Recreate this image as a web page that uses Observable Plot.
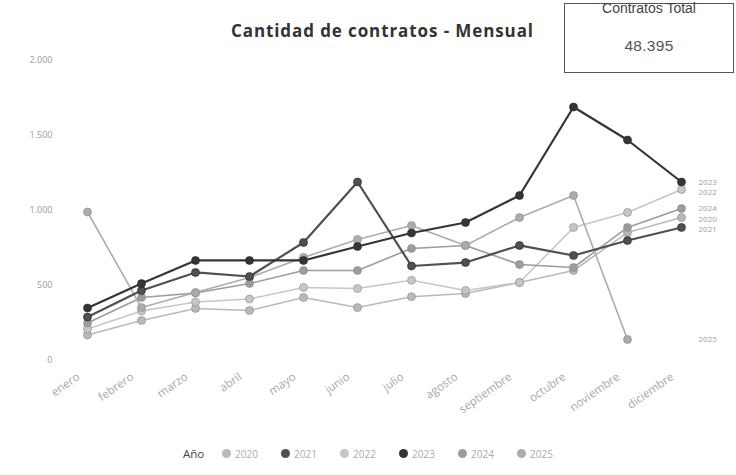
<!DOCTYPE html>
<html><head><meta charset="utf-8">
<script src="https://cdn.jsdelivr.net/npm/d3@7"></script>
<script src="https://cdn.jsdelivr.net/npm/@observablehq/plot@0.6"></script>
<style>
body{margin:0;background:#fff;font-family:"Open Sans",sans-serif;}
#wrap{position:relative;width:736px;height:475px;overflow:hidden;background:#fff;}
#title{position:absolute;left:231px;top:19px;font-weight:700;font-size:17px;color:#333;white-space:nowrap;letter-spacing:0.9px;}
#card{position:absolute;left:564px;top:3px;width:170px;height:70px;border:1px solid #555;box-sizing:border-box;font-family:"Liberation Sans",Arial,sans-serif;text-align:center;}
#card .h{position:absolute;left:0;right:0;top:-4px;font-size:14px;color:#444;}
#card .v{position:absolute;left:0;right:0;top:33px;font-size:15.5px;color:#555;letter-spacing:0.3px;}
#chart{position:absolute;left:0;top:50px;}
#legend{position:absolute;left:183px;top:446px;display:flex;align-items:center;font-size:11px;white-space:nowrap;}
#legend .lab{color:#444;width:39px;font-size:11.5px;}
#legend .it{display:flex;align-items:center;width:59px;color:#aaa;font-size:10px;}
#legend .mk{width:9px;height:9px;border-radius:50%;margin-right:4px;}
</style></head>
<body>
<div id="wrap">
  <div id="title">Cantidad de contratos - Mensual</div>
  <div id="card"><div class="h">Contratos Total</div><div class="v">48.395</div></div>
  <div id="chart"></div>
  <div id="legend"></div>
</div>
<script>
const months = ["enero","febrero","marzo","abril","mayo","junio","julio","agosto","septiembre","octubre","noviembre","diciembre"];
const years = ["2020","2021","2022","2023","2024","2025"];
const v2020 = [170, 267, 347, 333, 420, 353, 425, 447, 520, 600, 853, 953];
const v2021 = [290, 467, 587, 560, 787, 1190, 630, 653, 767, 700, 800, 887];
const v2022 = [210, 330, 390, 410, 487, 480, 535, 467, 520, 887, 987, 1140];
const v2023 = [350, 513, 667, 667, 667, 760, 850, 920, 1100, 1690, 1470, 1190];
const v2024 = [250, 420, 450, 513, 600, 600, 747, 767, 640, 620, 887, 1013];
const v2025 = [990, 353, 453, 553, 687, 807, 900, 767, 953, 1100, 140];
const yTicks = [0, 500, 1000, 1500, 2000];
const grays = ["#b9b9b9", "#505050", "#c6c6c6", "#353535", "#9c9c9c", "#acacac"];

const seriesVals = {"2020": v2020, "2021": v2021, "2022": v2022, "2023": v2023, "2024": v2024, "2025": v2025};
const drawOrder = ["2020", "2022", "2024", "2025", "2021", "2023"];
const data = [];
for (const yr of drawOrder) seriesVals[yr].forEach((v, i) => data.push({year: yr, month: months[i], value: v}));
const fmt = d => d3.format(",")(d).replace(/,/g, ".");
const colorOf = Object.fromEntries(years.map((y, i) => [y, grays[i]]));
const dark = new Set(["2021", "2023"]);

const yDomain = [0, 2000], yRange = [310, 10];
const yPx = d3.scaleLinear(yDomain, yRange);
// end-of-line series labels, dodged vertically so they don't collide
const ends = drawOrder.map(yr => ({year: yr, month: months[11], value: seriesVals[yr][seriesVals[yr].length - 1]}))
  .sort((a, b) => b.value - a.value);
let prev = -Infinity;
for (const e of ends) {
  const p = yPx(e.value);
  const q = Math.max(p, prev + 10.5);
  e.off = q - p;
  prev = q;
}

const chart = Plot.plot({
  width: 736, height: 380,
  marginLeft: 56, marginRight: 40, marginTop: 10, marginBottom: 62,
  x: {type: "point", domain: months, range: [87, 681], padding: 0},
  y: {domain: yDomain, range: yRange},
  color: {domain: years, range: grays},
  style: {fontFamily: "Open Sans", fontSize: "9px", background: "transparent", overflow: "visible"},
  marks: [
    Plot.axisY({ticks: yTicks, tickSize: 0, tickPadding: 4, tickFormat: fmt, label: null, fill: "#9a9a9a", fontSize: 9}),
    Plot.axisX({tickRotate: -35, tickSize: 0, tickPadding: 7, dx: -9, label: null, fill: "#a8a8a8", fontSize: 11.5}),
    ...drawOrder.map(yr => Plot.line(data.filter(d => d.year === yr), {
      x: "month", y: "value", stroke: colorOf[yr], strokeWidth: dark.has(yr) ? 2.2 : 1.6
    })),
    ...drawOrder.map(yr => Plot.dot(data.filter(d => d.year === yr), {
      x: "month", y: "value", r: 4, fill: colorOf[yr], stroke: dark.has(yr) ? "#222" : "#888", strokeWidth: 0.6
    })),
    ...ends.map(e => Plot.text([e], {x: "month", y: "value", text: "year", dx: 17, dy: e.off, textAnchor: "start", fill: "#a0a0a0", fontSize: 8}))
  ]
});
document.getElementById("chart").appendChild(chart);

const leg = document.getElementById("legend");
leg.innerHTML = '<span class="lab">Año</span>' + years.map((y, i) =>
  `<span class="it"><span class="mk" style="background:${grays[i]}"></span>${y}</span>`).join("");
</script>
</body></html>
